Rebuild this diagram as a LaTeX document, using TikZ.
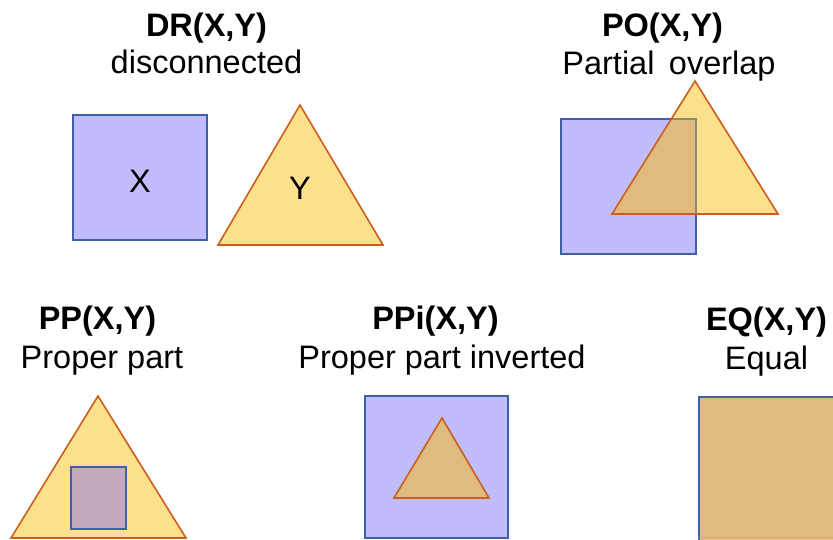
\documentclass[tikz,border=0pt]{standalone}
\usepackage{fontspec}
\setmainfont{Liberation Sans}
\definecolor{sqfill}{HTML}{C1BCFB}
\definecolor{sqline}{HTML}{3F5FA6}
\definecolor{trfill}{HTML}{FCE08B}
\definecolor{trline}{HTML}{C9601E}
\definecolor{ovfill}{HTML}{DFBB7F}
\definecolor{ovline}{HTML}{8A8A6C}
\definecolor{ppfill}{HTML}{C3ABBD}
\tikzset{
  sq/.style={fill=sqfill,draw=sqline,line width=1.6pt},
  tri/.style={fill=trfill,draw=trline,line width=1.6pt,line join=miter},
  lbl/.style={anchor=base,inner sep=0pt,font=\fontsize{32.5}{37}\selectfont},
  ttl/.style={lbl,font=\fontsize{32.5}{37}\selectfont\bfseries},
}
\begin{document}
\begin{tikzpicture}[x=1pt,y=-1pt]
\useasboundingbox (0,0) rectangle (833,539);
\clip (0,0) rectangle (833,539);
% ---- DR
\node[ttl] (drt) at (206.5,36) {DR(X,Y)};
\node[lbl] (drs) at (206.5,73) {disconnected};
\draw[sq] (73,115) rectangle (207,240);
\draw[tri] (300,105) -- (383,245) -- (218,245) -- cycle;
\node[font=\fontsize{32.5}{37}\selectfont,inner sep=0pt] (x) at (140,181) {X};
\node[font=\fontsize{32.5}{37}\selectfont,inner sep=0pt] (y) at (300,188) {Y};
% ---- PO
\node[ttl] (pot) at (662.5,36) {PO(X,Y)};
\node[lbl] (pos) at (669,74) {Partial\ \,overlap};
\draw[sq] (561,119) rectangle (696,254);
\fill[trfill] (695,81) -- (778,214) -- (612,214) -- cycle;
\begin{scope}
  \clip (561,119) rectangle (696,254);
  \fill[ovfill] (695,81) -- (778,214) -- (612,214) -- cycle;
\end{scope}
\begin{scope}
  \clip (695,81) -- (778,214) -- (612,214) -- cycle;
  \draw[draw=ovline,line width=1.6pt] (561,119) rectangle (696,254);
\end{scope}
\draw[draw=trline,line width=1.6pt] (695,81) -- (778,214) -- (612,214) -- cycle;
% ---- PP
\node[ttl] (ppt) at (97.5,329) {PP(X,Y)};
\node[lbl] (pps) at (102,368) {Proper part};
\draw[tri] (98,396) -- (186,538) -- (11,538) -- cycle;
\draw[fill=ppfill,draw=sqline,line width=1.6pt] (71,467) rectangle (126,529);
% ---- PPi
\node[ttl] (ppit) at (435.5,329) {PPi(X,Y)};
\node[lbl] (ppis) at (442,368) {Proper part inverted};
\draw[sq] (365,396) rectangle (508,538);
\draw[tri,fill=ovfill] (442,418) -- (489,498) -- (394,498) -- cycle;
% ---- EQ
\node[ttl] (eqt) at (766.5,330) {EQ(X,Y)};
\node[lbl] (eqs) at (766.5,369) {Equal};
\draw[fill=ovfill,draw=sqline,line width=1.6pt] (699,397) rectangle (842,545);
\draw[draw=trline!60,line width=1pt] (699,537) -- (842,537);
\end{tikzpicture}
\end{document}
